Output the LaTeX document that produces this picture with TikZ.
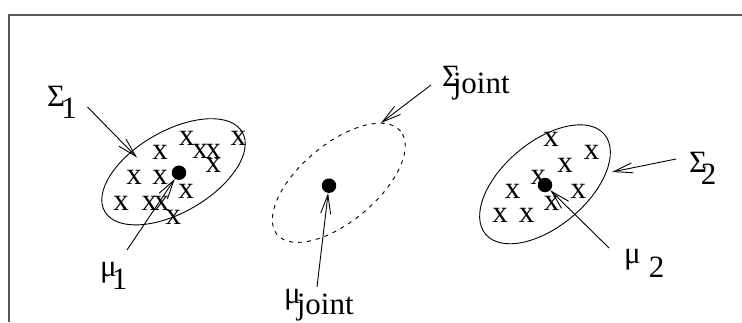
\documentclass[tikz,border=0pt]{standalone}
\usepackage{fontspec}
\setmainfont{Liberation Serif}
\usetikzlibrary{arrows.meta}
\begin{document}
\begin{tikzpicture}[x=1pt,y=1pt,
  lbl/.style={inner sep=0pt, anchor=base west, font=\fontsize{31}{36}\selectfont},
  xm/.style={inner sep=0pt, anchor=center, font=\fontsize{31}{36}\selectfont},
  dot/.style={circle, fill=black, inner sep=0pt, minimum size=14.5pt},
  arr/.style={line width=0.9pt, -{Straight Barb[length=19pt,width=10pt,line width=0.9pt]}},
  ell/.style={line width=0.9pt},
  dell/.style={line width=0.9pt, dash pattern=on 4pt off 5pt},
  frame/.style={line width=1.5pt, draw=black!65}]
\useasboundingbox (0,0) rectangle (742,322);
% frame
\draw[frame] (742,307) -- (9,307) -- (9,0);
% ellipses
\draw[ell, rotate around={30:(173.5,150.2)}] (173.5,150.2) ellipse (79.4 and 40.7);
\draw[dell, rotate around={40:(338.8,139.2)}] (338.8,139.2) ellipse (80.5 and 38.6);
\draw[ell, rotate around={40:(545,137.7)}] (545,137.7) ellipse (77.6 and 42.3);
% data points cluster 1
\foreach \p [count=\i] in {(160,169.7),(186.7,183.7),(200,170.3),(213.3,170.3),(213.3,157),(238.3,183.7),(134,144.3),(160,144.3),(186,131),(121,118.7),(149.3,118.7),(161.7,118.7),(173.3,104.3)}
  \node[xm] (pa\i) at \p {x};
% data points cluster 2
\foreach \p [count=\i] in {(551,183),(591.7,169.7),(565,157),(538.3,144.3),(512.7,131),(578.3,131),(551.7,118.7),(500,107),(526.7,107)}
  \node[xm] (pb\i) at \p {x};
% means
\node[dot] (d1) at (179,149.3) {};
\node[dot] (dj) at (329,136.3) {};
\node[dot] (d2) at (545,137) {};
% labels
\node[lbl] (s1) at (47,215) {Σ\kern-3.8pt\raisebox{-12pt}{1}};
\node[lbl] (sj) at (442,235) {Σ\kern-7.4pt\raisebox{-7pt}{joint}};
\node[lbl] (s2) at (689,150) {Σ\kern-6.4pt\raisebox{-13pt}{2}};
\node[lbl] (m1) at (100,46) {μ\kern-5pt\raisebox{-13pt}{1}};
\node[lbl] (mj) at (284,19) {μ\kern-4pt\raisebox{-11pt}{joint}};
\node[lbl] (m2) at (624,59) {μ\kern8pt\raisebox{-14pt}{2}};
% arrow ends
\coordinate (s1a) at (87.5,215);
\coordinate (s1b) at (137,164.5);
\coordinate (sja) at (431,237);
\coordinate (sjb) at (381,199);
\coordinate (s2a) at (676,163);
\coordinate (s2b) at (612,150);
\coordinate (m1a) at (127,72);
\coordinate (mja) at (317,35);
\coordinate (m2a) at (609,74);
% arrows
\draw[arr] (s1a) -- (s1b);
\draw[arr] (sja) -- (sjb);
\draw[arr] (s2a) -- (s2b);
\draw[arr] (m1a) -- (d1);
\draw[arr] (mja) -- (dj);
\draw[arr] (m2a) -- (d2);
\end{tikzpicture}
\end{document}
